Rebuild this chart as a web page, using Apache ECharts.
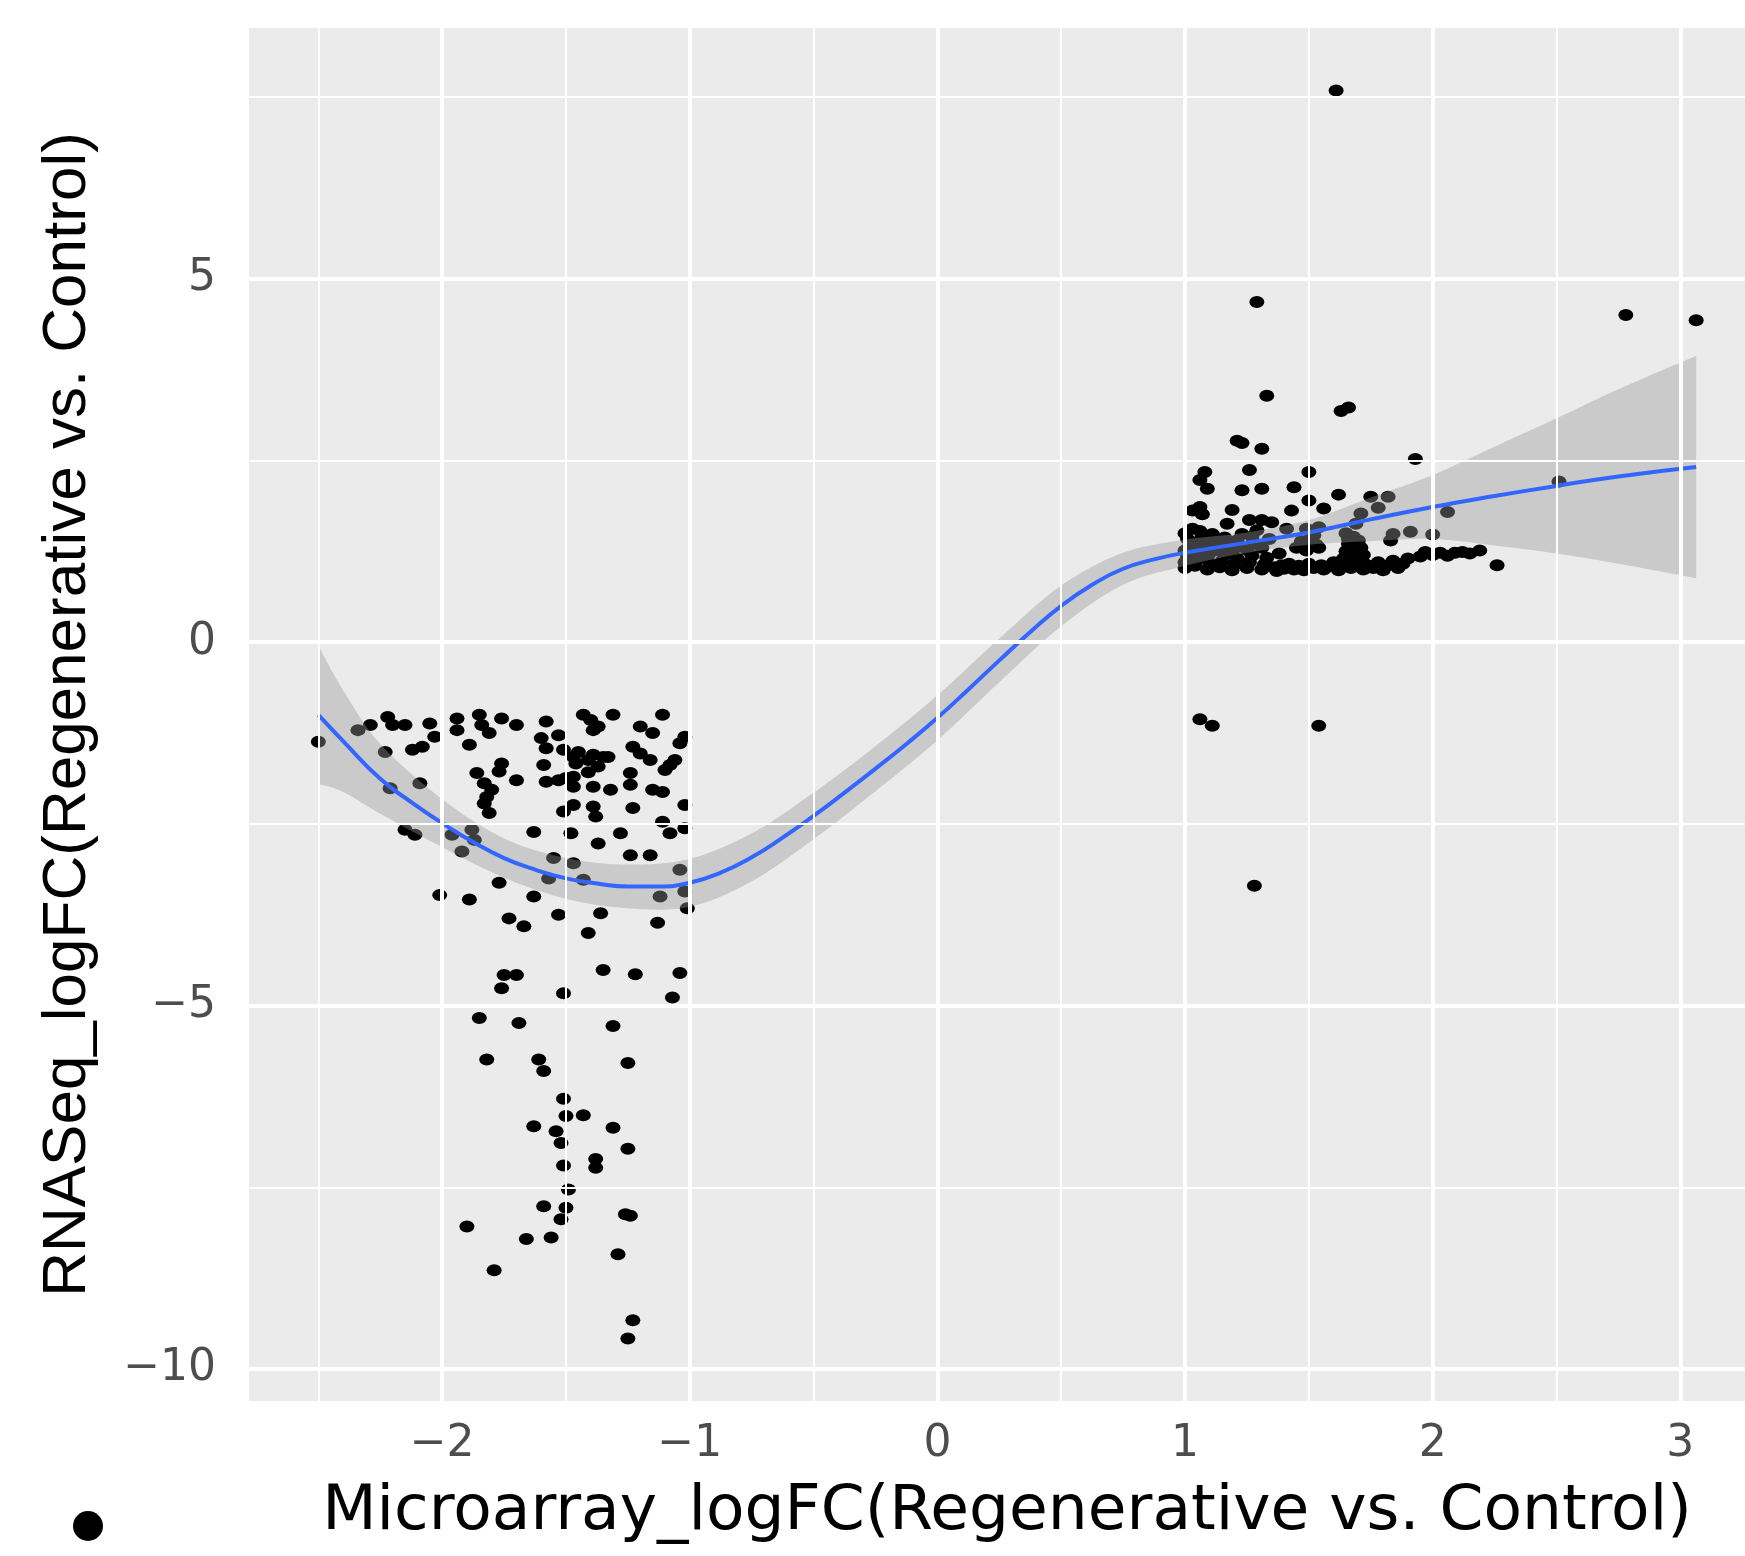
<!DOCTYPE html>
<html>
<head>
<meta charset="utf-8">
<title>Microarray vs RNASeq logFC</title>
<script src="https://cdn.jsdelivr.net/npm/echarts@6/dist/echarts.min.js"></script>
<style>
  html, body { margin: 0; padding: 0; background: #ffffff; }
  #chart { width: 1745px; height: 1556px; }
</style>
</head>
<body>
<div id="chart"></div>
<script>
// Axis ticks and gridlines
const xTicks = [-2, -1, 0, 1, 2, 3];
const yTicks = [-10, -5, 0, 5];
const xMinorGrid = [-2.5, -1.5, -0.5, 0.5, 1.5, 2.5];
const yMinorGrid = [-7.5, -2.5, 2.5, 7.5];

// Genes down-regulated on the microarray: [Microarray logFC, RNASeq logFC]
const downGenes = [
  [-2.50,-1.37],[-2.34,-1.21],[-2.29,-1.14],[-2.22,-1.03],[-2.20,-1.14],[-2.15,-1.14],
  [-2.23,-1.51],[-2.12,-1.48],[-2.08,-1.44],[-2.05,-1.12],[-2.03,-1.30],[-2.21,-2.01],
  [-2.09,-1.94],[-1.94,-1.05],[-1.94,-1.21],[-1.89,-1.41],[-1.85,-1.00],[-1.84,-1.14],
  [-1.81,-1.25],[-1.76,-1.05],[-1.70,-1.14],[-1.86,-1.80],[-1.83,-1.94],[-1.76,-1.67],
  [-1.70,-1.90],[-1.82,-2.13],[-1.81,-2.35],[-1.80,-2.03],[-1.77,-1.78],[-1.83,-2.22],
  [-2.15,-2.58],[-2.11,-2.65],[-1.96,-2.65],[-1.88,-2.58],[-1.87,-2.72],[-1.92,-2.88],
  [-1.58,-1.09],[-1.60,-1.32],[-1.58,-1.46],[-1.53,-1.28],[-1.51,-1.48],[-1.47,-1.58],
  [-1.43,-1.00],[-1.40,-1.07],[-1.39,-1.21],[-1.37,-1.16],[-1.31,-1.00],[-1.45,-1.51],
  [-1.39,-1.55],[-1.35,-1.58],[-1.41,-1.62],[-1.37,-1.71],[-1.46,-1.67],[-1.41,-1.79],
  [-1.33,-1.58],[-1.59,-1.69],[-1.58,-1.92],[-1.53,-1.90],[-1.50,-1.87],[-1.47,-1.85],
  [-1.47,-1.99],[-1.39,-1.99],[-1.32,-2.03],[-1.24,-1.80],[-1.24,-1.96],[-1.23,-1.44],
  [-1.20,-1.53],[-1.16,-1.62],[-1.20,-1.16],[-1.15,-1.25],[-1.11,-1.00],[-1.02,-1.30],
  [-1.04,-1.39],[-1.06,-1.62],[-1.10,-1.76],[-1.08,-1.69],[-1.15,-2.03],[-1.11,-2.06],
  [-1.02,-2.24],[-1.51,-2.33],[-1.47,-2.24],[-1.39,-2.26],[-1.38,-2.40],[-1.23,-2.28],
  [-1.63,-2.61],[-1.48,-2.63],[-1.37,-2.77],[-1.28,-2.63],[-1.11,-2.47],[-1.08,-2.63],
  [-1.02,-2.56],[-1.24,-2.93],[-1.16,-2.93],[-1.55,-2.97],[-1.47,-3.04],[-1.57,-3.25],
  [-1.43,-3.27],[-1.04,-3.13],[-1.12,-3.50],[-1.02,-3.43],[-1.01,-3.66],[-1.77,-3.31],
  [-2.01,-3.48],[-1.89,-3.54],[-1.63,-3.50],[-1.73,-3.80],[-1.67,-3.91],[-1.53,-3.75],
  [-1.36,-3.73],[-1.41,-4.00],[-1.13,-3.86],[-1.75,-4.58],[-1.70,-4.58],[-1.76,-4.76],
  [-1.51,-4.83],[-1.35,-4.51],[-1.22,-4.57],[-1.04,-4.55],[-1.07,-4.89],[-1.85,-5.17],
  [-1.69,-5.24],[-1.31,-5.28],[-1.82,-5.74],[-1.61,-5.74],[-1.59,-5.90],[-1.25,-5.79],
  [-1.51,-6.28],[-1.50,-6.52],[-1.43,-6.51],[-1.63,-6.66],[-1.54,-6.73],[-1.52,-6.89],
  [-1.31,-6.68],[-1.25,-6.97],[-1.51,-7.20],[-1.38,-7.11],[-1.38,-7.23],[-1.49,-7.53],
  [-1.59,-7.76],[-1.50,-7.78],[-1.52,-7.94],[-1.90,-8.04],[-1.66,-8.21],[-1.56,-8.19],
  [-1.26,-7.87],[-1.24,-7.89],[-1.29,-8.42],[-1.79,-8.64],[-1.23,-9.33],[-1.25,-9.58]
];

// Genes up-regulated on the microarray
const upGenes = [
  [1.61,7.59],[1.29,4.68],[2.78,4.50],[3.064,4.43],[1.33,3.39],[1.63,3.18],[1.66,3.23],
  [1.21,2.77],[1.23,2.74],[1.31,2.66],[1.93,2.52],[2.51,2.21],[1.06,-1.06],[1.11,-1.15],
  [1.54,-1.15],[1.28,-3.35],
  [1.08,2.34],[1.06,2.23],[1.09,2.11],[1.26,2.37],[1.50,2.34],[1.23,2.09],[1.31,2.11],
  [1.44,2.13],[1.62,2.03],[1.50,1.95],[1.56,1.84],[1.75,2.00],[1.82,2.00],[1.19,1.82],
  [1.03,1.81],[1.06,1.86],[1.07,1.76],[1.43,1.81],[1.71,1.77],[1.78,1.85],[2.06,1.79],
  [1.17,1.63],[1.26,1.68],[1.31,1.68],[1.35,1.65],[1.41,1.56],[1.49,1.56],[1.54,1.58],
  [1.69,1.63],[1.84,1.49],[1.91,1.52],[2.00,1.48],[1.83,1.40],
  [1.00,1.02],[1.00,1.10],[1.01,1.18],[1.00,1.26],[1.02,1.34],[1.01,1.42],[1.00,1.50],[1.03,1.56],
  [1.04,1.05],[1.05,1.14],[1.04,1.22],[1.06,1.30],[1.05,1.38],[1.07,1.46],[1.06,1.53],
  [1.09,1.00],[1.10,1.08],[1.09,1.17],[1.11,1.25],[1.10,1.33],[1.12,1.41],[1.11,1.49],
  [1.14,1.03],[1.15,1.12],[1.16,1.20],[1.14,1.28],[1.17,1.36],[1.16,1.44],
  [1.19,0.99],[1.20,1.07],[1.21,1.15],[1.19,1.23],[1.22,1.32],[1.21,1.40],[1.23,1.49],
  [1.25,1.02],[1.26,1.10],[1.27,1.19],[1.25,1.27],[1.28,1.36],[1.27,1.45],[1.29,1.54],
  [1.31,1.00],[1.32,1.07],[1.33,1.16],[1.31,1.30],[1.34,1.42],
  [1.36,1.03],[1.37,0.98],[1.39,1.06],[1.40,1.01],[1.42,1.08],[1.38,1.22],
  [1.44,1.00],[1.45,1.30],[1.46,1.05],[1.47,1.39],[1.48,0.99],[1.49,1.26],[1.50,1.08],
  [1.51,1.44],[1.52,1.02],[1.53,1.34],[1.55,1.06],[1.56,1.00],
  [1.47,1.33],[1.50,1.40],[1.54,1.30],[1.52,1.47],
  [1.58,1.04],[1.60,1.10],[1.62,0.99],[1.63,1.06],[1.64,1.15],[1.65,1.25],[1.66,1.35],
  [1.67,1.02],[1.68,1.45],[1.69,1.10],[1.70,1.20],[1.71,1.30],[1.72,1.00],[1.73,1.07],
  [1.66,1.42],[1.68,1.30],[1.70,1.40],[1.65,1.50],[1.72,1.20],[1.66,1.12],
  [1.76,1.02],[1.78,1.10],[1.80,0.99],[1.82,1.06],[1.84,1.12],[1.86,1.02],[1.88,1.08],
  [1.90,1.15],[1.95,1.18],[1.97,1.24],[2.00,1.20],[2.03,1.23],[2.06,1.19],[2.09,1.23],
  [2.12,1.24],[2.15,1.22],[2.19,1.26],[2.26,1.06]
];

// Loess fit
const fitX = [-2.5, -2.4, -2.25, -2.125, -2.0, -1.875, -1.75, -1.625, -1.5, -1.375, -1.25, -1.125,
              -1.0, -0.875, -0.75, -0.625, -0.5, -0.375, -0.25, -0.125, 0, 0.125, 0.25, 0.375,
              0.5, 0.625, 0.75, 0.875, 1.0, 1.25, 1.5, 1.75, 2.0, 2.25, 2.5, 2.75, 3.064];
const fitY = [-1.00, -1.36, -1.88, -2.20, -2.49, -2.75, -2.97, -3.13, -3.25, -3.32, -3.36, -3.36,
              -3.31, -3.17, -2.96, -2.69, -2.39, -2.07, -1.74, -1.40, -1.04, -0.65, -0.25, 0.14,
              0.50, 0.79, 1.01, 1.14, 1.23, 1.37, 1.51, 1.69, 1.86, 2.01, 2.15, 2.28, 2.41];

// Confidence band of the fit
const bandX     = [-2.5, -2.4, -2.25, -2.0, -1.75, -1.5, -1.25, -1.0, -0.75, -0.5, -0.25, 0, 0.25, 0.5, 0.75, 1.0, 1.25, 1.5, 1.75, 2.0, 2.25, 2.5, 2.75, 3.064];
const bandLower = [-1.95, -2.06, -2.36, -2.82, -3.24, -3.53, -3.66, -3.64, -3.29, -2.71, -2.05, -1.35, -0.55, 0.22, 0.79, 1.05, 1.23, 1.34, 1.39, 1.42, 1.33, 1.22, 1.08, 0.88];
const bandUpper = [-0.05, -0.66, -1.40, -2.16, -2.70, -2.97, -3.06, -2.98, -2.63, -2.07, -1.43, -0.73, 0.05, 0.78, 1.23, 1.41, 1.51, 1.68, 1.99, 2.30, 2.69, 3.08, 3.48, 3.94];

const minus = v => String(v).replace('-', '\u2212');

const gridLines = [].concat(
  xMinorGrid.map(v => ({ xAxis: v, lineStyle: { width: 2 } })),
  yMinorGrid.map(v => ({ yAxis: v, lineStyle: { width: 2 } })),
  xTicks.map(v => ({ xAxis: v, lineStyle: { width: 4 } })),
  yTicks.map(v => ({ yAxis: v, lineStyle: { width: 4 } }))
);

// Smooth a pixel polyline with Catmull-Rom segments (drawn as sampled cubic curves)
function smoothPixels(pts, steps) {
  const out = [pts[0]];
  for (let i = 0; i < pts.length - 1; i++) {
    const p0 = pts[Math.max(i - 1, 0)], p1 = pts[i], p2 = pts[i + 1], p3 = pts[Math.min(i + 2, pts.length - 1)];
    const c1 = [p1[0] + (p2[0] - p0[0]) / 6, p1[1] + (p2[1] - p0[1]) / 6];
    const c2 = [p2[0] - (p3[0] - p1[0]) / 6, p2[1] - (p3[1] - p1[1]) / 6];
    for (let s = 1; s <= steps; s++) {
      const t = s / steps, u = 1 - t;
      const a = u * u * u, b = 3 * u * u * t, c = 3 * u * t * t, d = t * t * t;
      out.push([a * p1[0] + b * c1[0] + c * c2[0] + d * p2[0],
                a * p1[1] + b * c1[1] + c * c2[1] + d * p2[1]]);
    }
  }
  return out;
}

function renderBand(params, api) {
  const upper = bandX.map((x, i) => api.coord([x, bandUpper[i]]));
  const lower = bandX.map((x, i) => api.coord([x, bandLower[i]])).reverse();
  const points = smoothPixels(upper, 16).concat(smoothPixels(lower, 16));
  return {
    type: 'polygon',
    shape: { points: points },
    style: { fill: 'rgba(153,153,153,0.4)', stroke: null }
  };
}

const chart = echarts.init(document.getElementById('chart'), null, { renderer: 'canvas' });

chart.setOption({
  animation: false,
  backgroundColor: '#ffffff',
  grid: {
    left: 249, right: -20, top: 28, bottom: 155,
    show: true, backgroundColor: '#EBEBEB', borderWidth: 0,
    containLabel: false, outerBoundsMode: 'none'
  },
  legend: {
    data: ['genes'],
    left: 68, top: 1506,
    icon: 'circle', itemWidth: 30, itemHeight: 30,
    itemStyle: { color: '#000000', opacity: 1 },
    formatter: () => '',
    selectedMode: false
  },
  xAxis: {
    type: 'value', min: -2.78, max: 3.342,
    splitLine: { show: false },
    axisLine: { show: false },
    axisTick: { show: true, customValues: xTicks, length: 14, lineStyle: { color: '#333333', width: 3.5 } },
    axisLabel: {
      customValues: xTicks, formatter: minus, margin: 22,
      fontFamily: 'DejaVu Sans', fontSize: 44, color: '#4D4D4D'
    },
    name: 'Microarray_logFC(Regenerative vs. Control)',
    nameLocation: 'middle', nameGap: 80,
    nameTextStyle: { fontFamily: 'DejaVu Sans', fontSize: 63, color: '#000000' }
  },
  yAxis: {
    type: 'value', min: -10.44, max: 8.45,
    splitLine: { show: false },
    axisLine: { show: false },
    axisTick: { show: true, customValues: yTicks, length: 14, lineStyle: { color: '#333333', width: 3.5 } },
    axisLabel: {
      customValues: yTicks, formatter: minus, margin: 33,
      fontFamily: 'DejaVu Sans', fontSize: 44, color: '#4D4D4D'
    },
    name: 'RNASeq_logFC(Regenerative vs. Control)',
    nameLocation: 'middle', nameRotate: 90, nameGap: 150,
    nameTextStyle: { fontFamily: 'Liberation Sans', fontSize: 62, color: '#000000' }
  },
  series: [
    {
      name: 'gridlines', type: 'line', data: [], z: 1, silent: true,
      markLine: {
        silent: true, symbol: ['none', 'none'], label: { show: false },
        lineStyle: { color: '#ffffff', type: 'solid' },
        emphasis: { disabled: true },
        animation: false,
        data: gridLines
      }
    },
    {
      name: 'genes', type: 'scatter', z: 2,
      data: downGenes.concat(upGenes),
      symbol: 'circle', symbolSize: [15, 12],
      itemStyle: { color: '#000000', opacity: 1 },
      emphasis: { disabled: true }
    },
    {
      name: 'band', type: 'custom', z: 3, silent: true,
      data: [[bandX[0], bandLower[0]]],
      renderItem: renderBand
    },
    {
      name: 'fit', type: 'line', z: 4,
      data: fitX.map((x, i) => [x, fitY[i]]),
      smooth: 0.5, showSymbol: false, silent: true,
      lineStyle: { color: '#3366FF', width: 4 }
    }
  ]
});
</script>
</body>
</html>
